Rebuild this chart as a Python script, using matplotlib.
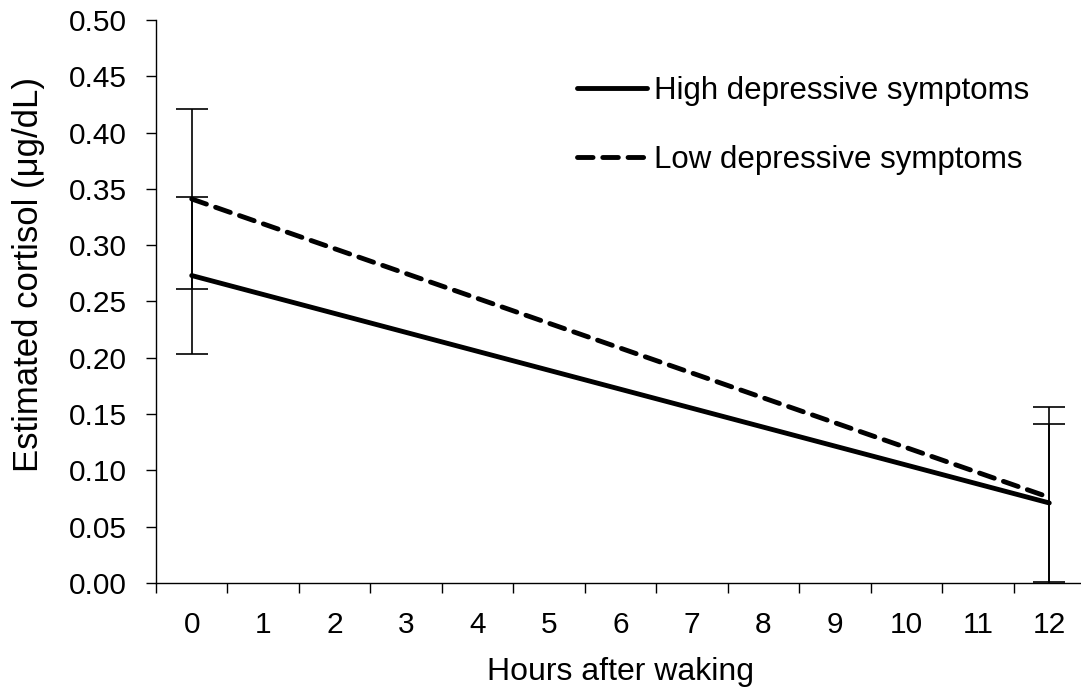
import numpy as np
import matplotlib.pyplot as plt

plt.rcParams['font.family'] = ['Liberation Sans', 'DejaVu Sans']

# data
hours = [0, 12]
high = [0.273, 0.071]
low = [0.341, 0.076]
high_err = [0.07, 0.07]
low_err = [0.08, 0.08]
categories = list(range(13))

fig = plt.figure(figsize=(10.81, 6.89), dpi=100)
ax = fig.add_axes([0.1443, 0.154, 0.8594, 0.817])

ax.errorbar(hours, low, yerr=low_err, fmt='none', ecolor='black',
            elinewidth=1.2, capsize=11.5, capthick=1.2, zorder=2)
ax.errorbar(hours, high, yerr=high_err, fmt='none', ecolor='black',
            elinewidth=1.2, capsize=11.5, capthick=1.2, zorder=2)

ax.plot(hours, high, color='black', lw=3.5, solid_capstyle='round',
        label='High depressive symptoms', zorder=3)
ax.plot(hours, low, color='black', lw=3.5, ls=(0, (3.2, 2.0)),
        dash_capstyle='round', label='Low depressive symptoms', zorder=3)

ax.set_xlim(-0.5, 12.5)
ax.set_ylim(0, 0.5)
yt = np.arange(0, 0.501, 0.05)
ax.set_yticks(yt)
ax.set_yticklabels([f'{v:.2f}' for v in yt])
ax.set_xticks(categories)
ax.set_xticklabels([str(c) for c in categories])
ax.set_xticks(np.arange(-0.5, 12.6, 1), minor=True)
ax.tick_params(axis='x', which='major', length=0, pad=20, labelsize=21.5)
ax.tick_params(axis='x', which='minor', length=7, width=1, direction='out')
ax.tick_params(axis='y', length=7, width=1, direction='out', labelsize=21.5, pad=14)

ax.spines['top'].set_visible(False)
ax.spines['right'].set_visible(False)
ax.spines['left'].set_linewidth(1)
ax.spines['bottom'].set_linewidth(1)

ax.set_xlabel('Hours after waking', fontsize=23)
ax.set_ylabel('Estimated cortisol (μg/dL)', fontsize=25)
ax.xaxis.set_label_coords(0.4995, -0.1315)
ax.yaxis.set_label_coords(-0.119, 0.548)

ax.legend(loc='upper left', bbox_to_anchor=(0.453, 0.901), frameon=False,
          fontsize=22.5, handlelength=2.24, handletextpad=0.22,
          labelspacing=1.27, borderpad=0, borderaxespad=0)

fig.savefig('out.png', dpi=100)
